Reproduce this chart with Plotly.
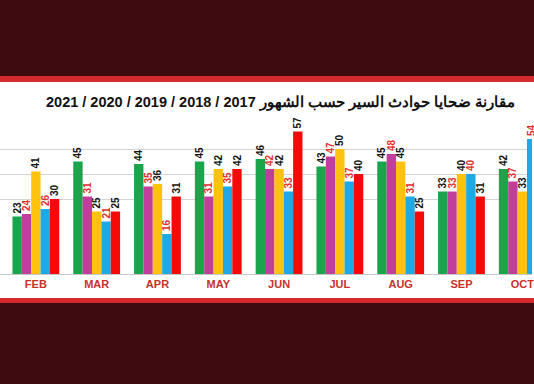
import plotly.graph_objects as go

months = ["FEB", "MAR", "APR", "MAY", "JUN", "JUL", "AUG", "SEP", "OCT"]
years = ["2017", "2018", "2019", "2020", "2021"]
v2017 = [23, 45, 44, 45, 46, 43, 45, 33, 42]
v2018 = [24, 31, 35, 31, 42, 47, 48, 33, 37]
v2019 = [41, 25, 36, 42, 42, 50, 45, 40, 33]
v2020 = [26, 21, 16, 35, 33, 37, 31, 40, 54]
v2021 = [30, 25, 31, 42, 57, 40, 25, 31, None]
series = [v2017, v2018, v2019, v2020, v2021]
bar_colors = ["#1aa44b", "#c03f9c", "#ffc20e", "#1ea9e6", "#f50a0a"]
label_colors = ["#111111", "#e0302c", "#111111", "#e0302c", "#111111"]
title_text = "مقارنة ضحايا حوادث السير حسب الشهور 2017 / 2018 / 2019 / 2020 / 2021"

W, H = 534, 384
top_px, base_px = 110, 274
ph = base_px - top_px

def py(p):
    return (base_px - p) / ph

fig = go.Figure()
for name, vals, bc, lc in zip(years, series, bar_colors, label_colors):
    fig.add_trace(go.Bar(
        x=months, y=vals, name=name,
        marker=dict(color=bc, line=dict(width=0)),
        text=[("" if v is None else str(v)) for v in vals],
        textposition="outside", textangle=-90,
        textfont=dict(family="Liberation Sans, Arial", size=10, color=lc, weight="bold"),
        constraintext="none", cliponaxis=False,
    ))

shapes = [
    dict(type="rect", xref="paper", yref="paper", x0=-0.1, x1=1.1,
         y0=py(303), y1=py(76), fillcolor="#d42a2e", line_width=0, layer="below"),
    dict(type="rect", xref="paper", yref="paper", x0=-0.1, x1=1.1,
         y0=py(298), y1=py(82), fillcolor="#ffffff", line_width=0, layer="below"),
]

fig.update_layout(
    width=W, height=H,
    margin=dict(l=0, r=0, t=top_px, b=H - base_px, pad=0),
    paper_bgcolor="#3d0b10", plot_bgcolor="rgba(0,0,0,0)",
    barmode="group", bargap=0.23, bargroupgap=0,
    showlegend=False, shapes=shapes,
    annotations=[dict(text="<b>" + title_text + "</b>", xref="paper", yref="paper",
                      x=282 / W, y=py(102), showarrow=False, xanchor="center", yanchor="middle",
                      font=dict(family="Liberation Sans, Arial", size=14.5, color="#111111"))],
)
fig.update_xaxes(range=[-0.59, 8.16], showgrid=False, showline=True, linecolor="#c8c8c8", linewidth=1,
                 ticks="", tickfont=dict(family="Liberation Sans, Arial", size=11, color="#c8302c", weight="bold"),
                 ticklabelstandoff=0)
fig.update_yaxes(range=[0, ph / 2.5], tickvals=[30, 40, 50], showticklabels=False,
                 gridcolor="#d4d4d4", gridwidth=1, zeroline=False)

fig.write_html("out.html", config={"displayModeBar": False},
               post_script="document.body.style.margin='0';")
